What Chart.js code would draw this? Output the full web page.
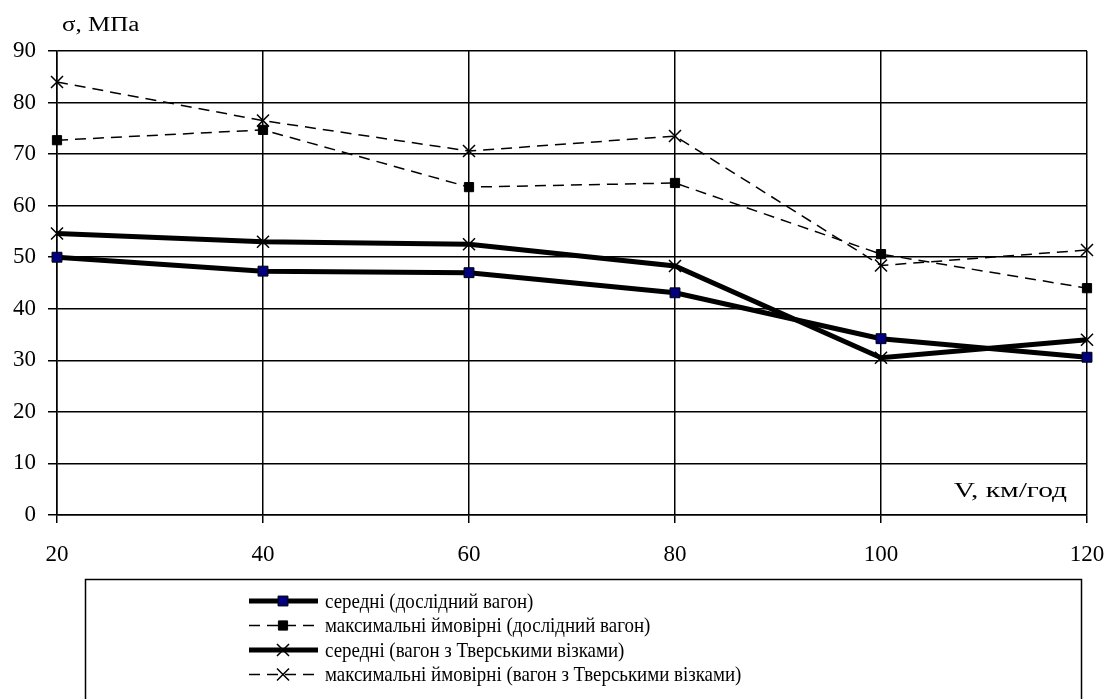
<!DOCTYPE html>
<html>
<head>
<meta charset="utf-8">
<script src="https://cdn.jsdelivr.net/npm/chart.js@4/dist/chart.umd.min.js"></script>
<style>
html,body{margin:0;padding:0;background:#fff;}
#wrap{position:relative;width:1106px;height:699px;}
</style>
</head>
<body>
<div id="wrap"><canvas id="c" width="1106" height="699"></canvas></div>
<script>
const speeds = [20, 40, 60, 80, 100, 120];
const meanTest = [50.0, 47.3, 47.0, 43.1, 34.2, 30.6];
const maxTest = [72.7, 74.7, 63.6, 64.4, 50.6, 44.0];
const meanTver = [54.6, 53.0, 52.5, 48.3, 30.5, 34.0];
const maxTver = [84.0, 76.5, 70.6, 73.5, 48.4, 51.4];
const seriesNames = [
  'середні (дослідний вагон)',
  'максимальні ймовірні (дослідний вагон)',
  'середні (вагон з Тверськими візками)',
  'максимальні ймовірні (вагон з Тверськими візками)'
];
const yTitle = 'σ, МПа';
const xTitle = 'V, км/год';
const FONT = '"Liberation Serif", "Times New Roman", serif';

function pts(vals){ return speeds.map((x,i)=>({x:x, y:vals[i]})); }

const datasets = [
  {label: seriesNames[1], data: pts(maxTest), borderColor:'#000', borderWidth:1.5, borderDash:[11,7],
   pointStyle:'rect', pointRadius:6.5, pointBackgroundColor:'#000', pointBorderColor:'#000', pointBorderWidth:1, order:4},
  {label: seriesNames[3], data: pts(maxTver), borderColor:'#000', borderWidth:1.5, borderDash:[11,7],
   pointStyle:'crossRot', pointRadius:8.5, pointBorderColor:'#000', pointBorderWidth:1.5, order:3},
  {label: seriesNames[2], data: pts(meanTver), borderColor:'#000', borderWidth:5,
   pointStyle:'crossRot', pointRadius:8.5, pointBorderColor:'#000', pointBorderWidth:1.5, order:2},
  {label: seriesNames[0], data: pts(meanTest), borderColor:'#000', borderWidth:5,
   pointStyle:'rect', pointRadius:7, pointBackgroundColor:'#000080', pointBorderColor:'#000', pointBorderWidth:1, order:1}
];
datasets.forEach(d=>{ d.tension=0; d.fill=false; d.clip=false; d.pointHoverRadius=d.pointRadius; d.borderCapStyle='butt'; });

const legendOrder = [3,0,2,1];

function stretchText(ctx, text, x, y, size, sx, align){
  ctx.save();
  ctx.font = size + 'px ' + FONT;
  ctx.textBaseline = 'middle';
  ctx.textAlign = 'left';
  const w = ctx.measureText(text).width * sx;
  let left = x;
  if (align === 'right') left = x - w;
  ctx.translate(left, y);
  ctx.scale(sx, 1);
  ctx.fillText(text, 0, 0);
  ctx.restore();
}

const overlay = {
  id:'overlay',
  afterDraw(chart){
    const ctx = chart.ctx;
    ctx.save();
    ctx.fillStyle='#000';
    stretchText(ctx, yTitle, 62, 26, 20, 1.25, 'left');
    stretchText(ctx, xTitle, 1067, 491, 21, 1.4, 'right');
    // legend box
    ctx.strokeStyle='#000'; ctx.lineWidth=1.5; ctx.setLineDash([]);
    ctx.strokeRect(85.5, 579.5, 996, 130);
    const rowY = [601, 625.5, 650, 674.5];
    const x0 = 249, x1 = 318, xm = 283;
    legendOrder.forEach((di, r)=>{
      const ds = chart.data.datasets[di];
      const y = rowY[r];
      ctx.save();
      ctx.strokeStyle='#000';
      ctx.lineWidth = ds.borderWidth;
      ctx.setLineDash(ds.borderDash || []);
      ctx.beginPath(); ctx.moveTo(x0, y); ctx.lineTo(x1, y); ctx.stroke();
      ctx.setLineDash([]);
      ctx.fillStyle = ds.pointBackgroundColor || '#000';
      ctx.strokeStyle = ds.pointBorderColor || '#000';
      ctx.lineWidth = ds.pointBorderWidth;
      ctx.beginPath();
      if (ds.pointStyle==='rect'){
        const s = ds.pointRadius/Math.SQRT2;
        ctx.rect(xm-s, y-s, 2*s, 2*s); ctx.fill(); ctx.stroke();
      } else {
        const o = ds.pointRadius*Math.SQRT1_2;
        ctx.moveTo(xm-o,y-o); ctx.lineTo(xm+o,y+o); ctx.moveTo(xm+o,y-o); ctx.lineTo(xm-o,y+o); ctx.stroke();
      }
      ctx.restore();
      ctx.fillStyle='#000';
      stretchText(ctx, ds.label, 325, y+1, 22, 0.86, 'left');
    });
    ctx.restore();
  }
};

new Chart(document.getElementById('c'), {
  type:'line',
  data:{datasets},
  options:{
    responsive:false, animation:false, devicePixelRatio:1,
    layout:{padding:{left:0, right:0, top:51, bottom:0}},
    plugins:{legend:{display:false}, tooltip:{enabled:false}},
    scales:{
      x:{type:'linear', min:20, max:120,
        ticks:{stepSize:20, color:'#000', font:{family:FONT, size:23}, padding:18, maxRotation:0},
        grid:{color:'#000', lineWidth:1.5, tickLength:8, drawTicks:true},
        border:{color:'#000', width:1.5},
        afterFit(s){ s.height = 699-51-464; s.paddingRight = 19; s.paddingLeft = 0; }
      },
      y:{type:'linear', min:0, max:90,
        ticks:{stepSize:10, color:'#000', font:{family:FONT, size:23}, padding:12},
        grid:{color:'#000', lineWidth:1.5, tickLength:9},
        border:{color:'#000', width:1.5},
        afterFit(s){ s.width = 57; s.paddingTop = 0; s.paddingBottom = 0; }
      }
    }
  },
  plugins:[overlay]
});
</script>
</body>
</html>
